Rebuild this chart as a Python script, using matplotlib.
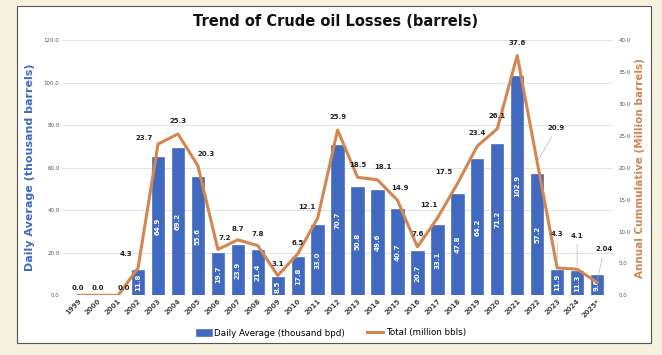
import matplotlib.pyplot as plt
from matplotlib.patches import Rectangle
import numpy as np

years = ['1999', '2000', '2001', '2002', '2003', '2004', '2005', '2006', '2007', '2008',
         '2009', '2010', '2011', '2012', '2013', '2014', '2015', '2016', '2017', '2018',
         '2019', '2020', '2021', '2022', '2023', '2024', '2025*']
daily = [0.0, 0.0, 0.0, 11.8, 64.9, 69.2, 55.6, 19.7, 23.9, 21.4, 8.5, 17.8, 33.0, 70.7,
         50.8, 49.6, 40.7, 20.7, 33.1, 47.8, 64.2, 71.2, 102.9, 57.2, 11.9, 11.3, 9.6]
total = [0.0, 0.0, 0.0, 4.3, 23.7, 25.3, 20.3, 7.2, 8.7, 7.8, 3.1, 6.5, 12.1, 25.9,
         18.5, 18.1, 14.9, 7.6, 12.1, 17.5, 23.4, 26.1, 37.6, 20.9, 4.3, 4.1, 2.04]
total_text = ['0.0', '0.0', '0.0', '4.3', '23.7', '25.3', '20.3', '7.2', '8.7', '7.8',
              '3.1', '6.5', '12.1', '25.9', '18.5', '18.1', '14.9', '7.6', '12.1', '17.5',
              '23.4', '26.1', '37.6', '20.9', '4.3', '4.1', '2.04']

blue = '#4169C0'
orange = '#D48650'

fig = plt.figure(figsize=(6.62, 3.55), dpi=100)
fig.patch.set_facecolor('#F4F1DC')
# white chart panel
fig.patches.append(Rectangle((17/662, 1-343/355), 634/662, 337/355, transform=fig.transFigure,
                             facecolor='white', edgecolor='#555555', lw=0.8, zorder=-10))

ax = fig.add_axes([0.094, 0.168, 0.832, 0.719])
ax.set_facecolor('none')
x = np.arange(len(years))
bars = ax.bar(x, daily, width=0.62, color=blue, edgecolor='#3A5DAE', lw=0.4, zorder=2,
              label='Daily Average (thousand bpd)')
for xi, v in zip(x, daily):
    if v > 0:
        ax.text(xi, v / 2, f'{v:.1f}', rotation=90, ha='center', va='center', color='white',
                fontsize=5, fontweight='bold', zorder=5)
ax.set_ylim(0, 120)
ax.set_yticks(np.arange(0, 121, 20))
ax.set_yticklabels([f'{t:.1f}' for t in np.arange(0, 121, 20)], fontsize=4, color='#555555')
ax.set_xlim(-0.8, len(years) - 0.2)
ax.set_xticks(x)
ax.set_xticklabels(years, rotation=45, fontsize=5, color='#444444', fontweight='bold',
                   ha='right', rotation_mode='anchor')
ax.grid(axis='y', color='#DDDDDD', lw=0.6, zorder=0)
ax.tick_params(length=0, pad=2)
for s in ax.spines.values():
    s.set_visible(False)
ax.set_ylabel('Daily Average (thousand barrels)', color=blue, fontsize=8,
              fontweight='bold', labelpad=6)

ax2 = ax.twinx()
ax2.plot(x, total, color=orange, lw=2.2, zorder=4, label='Total (million bbls)')
ax2.set_ylim(0, 40)
ax2.set_yticks(np.arange(0, 41, 5))
ax2.set_yticklabels([f'{t:.1f}' for t in np.arange(0, 41, 5)], fontsize=4, color='#555555')
ax2.tick_params(length=0, pad=4)
for s in ax2.spines.values():
    s.set_visible(False)
ax2.set_ylabel('Annual Cummulative (Million barrels)', color=orange, fontsize=7.5,
               fontweight='bold', labelpad=3)

offsets = [(0, 3), (0, 3), (4, 3), (-9, 8), (-10, 2), (0, 7), (6, 6), (5, 6), (0, 6), (0, 6),
           (0, 6), (0, 6), (-8, 6), (0, 7), (0, 7), (4, 7), (2, 7), (0, 7), (-6, 7), (-10, 6),
           (0, 7), (0, 7), (0, 7), (14, 22), (0, 22), (0, 22), (5, 22)]
for xi, v, t, off in zip(x, total, total_text, offsets):
    ax2.annotate(t, (xi, v), xytext=off, textcoords='offset points', ha='center',
                 va='bottom', fontsize=5, fontweight='bold', color='#222222', zorder=6,
                 arrowprops=dict(arrowstyle='-', color='#AAAAAA', lw=0.4) if off[1] > 15 else None)

fig.text(0.507, 1-21/355, 'Trend of Crude oil Losses (barrels)', ha='center', va='center',
         fontsize=10.5, fontweight='bold', color='#111111')

h1, l1 = ax.get_legend_handles_labels()
h2, l2 = ax2.get_legend_handles_labels()
fig.legend(h1 + h2, l1 + l2, loc='center', bbox_to_anchor=(0.5, 1-333/355), ncol=2,
           frameon=False, fontsize=6.3, handlelength=1.8, columnspacing=2.5, handletextpad=0.3)

plt.savefig('out.png', dpi=100, facecolor=fig.get_facecolor())
